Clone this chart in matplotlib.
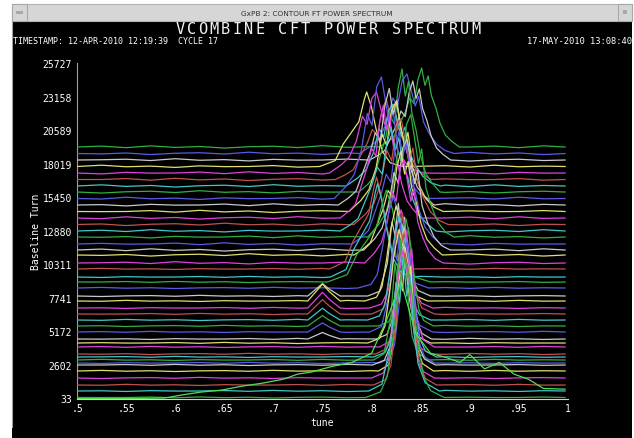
import matplotlib
matplotlib.use("Agg")
import matplotlib.pyplot as plt
from matplotlib.patches import Rectangle
from matplotlib.lines import Line2D

W, H = 634, 439
MONO = "DejaVu Sans Mono"

# ---------------------------------------------------------------------------
# Axis data
# ---------------------------------------------------------------------------
Y_TICKS = [33, 2602, 5172, 7741, 10311, 12880, 15450, 18019, 20589, 23158, 25727]
X_TICKS = [0.5, 0.55, 0.6, 0.65, 0.7, 0.75, 0.8, 0.85, 0.9, 0.95, 1.0]
X_LABELS = [".5", ".55", ".6", ".65", ".7", ".75", ".8", ".85", ".9", ".95", "1"]
TUNE_START, TUNE_END = 0.5, 0.997

TITLE = "VCOMBINE CFT POWER SPECTRUM"
WINDOW_TITLE = "GxPB 2: CONTOUR FT POWER SPECTRUM"
STAMP_LEFT = "TIMESTAMP: 12-APR-2010 12:19:39  CYCLE 17"
STAMP_RIGHT = "17-MAY-2010 13:08:40"

# ---------------------------------------------------------------------------
# Trace data, top trace first
# ---------------------------------------------------------------------------
BASE = [19310, 18812, 18314, 17816, 17318, 16819, 16321, 15861, 15363, 14865,
        14367, 13868, 13370, 12872, 12412, 11875, 11416, 11032, 10419,
        9959, 9346, 8963, 8503, 7890, 7506, 6970, 6510, 6050, 5590,
        5130, 4594, 4287, 3980, 3444, 3214, 2984, 2754, 2601, 2141,
        1604, 1068, 608, 110]
PEAK_TUNE = [0.851, 0.836, 0.842, 0.795, 0.805, 0.815, 0.822, 0.831, 0.810, 0.818,
             0.825, 0.812, 0.830, 0.820, 0.840, 0.828, 0.836, 0.830, 0.833,
             0.805, 0.806, 0.815, 0.822, 0.828, 0.825, 0.830, 0.832, 0.828, 0.835,
             0.830, 0.833, 0.828, 0.836, 0.832, 0.834, 0.830, 0.836, 0.833, 0.835,
             0.832, 0.834, 0.833, 0.834]
PEAK_TOP = [25370, 24900, 24370, 23530, 23530, 23000, 22600, 25290, 24680, 23800,
            22800, 22500, 21500, 20800, 21800, 20500, 19900, 19000, 18300,
            17000, 16500, 16000, 15500, 15000, 14800, 14500, 14300, 14000, 13800,
            13500, 13200, 13000, 12800, 12600, 12400, 12200, 12000, 11800, 11600,
            11400, 11200, 11000, 10800]
PEAK_WIDTH = [0.011, 0.012, 0.011, 0.008, 0.012, 0.013, 0.012, 0.011, 0.012, 0.013,
              0.012, 0.011, 0.012, 0.013, 0.011, 0.012, 0.011, 0.012, 0.010,
              0.008, 0.008, 0.010, 0.009, 0.008, 0.008, 0.008, 0.008, 0.008, 0.007,
              0.008, 0.007, 0.008, 0.007, 0.007, 0.008, 0.007, 0.007, 0.008, 0.007,
              0.008, 0.008, 0.009, 0.010]
SHAPE = ["D", "E", "D", "C", "E", "D", "E", "D", "E", "D",
         "E", "D", "E", "D", "E", "D", "E", "D", "E",
         "C", "C", "C", "A", "B", "A", "A", "B", "A", "A",
         "B", "A", "A", "B", "A", "A", "B", "A", "A", "B",
         "A", "A", "B", "A"]
# small bump near tune .75
BUMP = [0] * 23 + [950, 1300, 1200, 1100, 900, 800, 700, 500] + [0] * 12

# normalised peak outlines (offset in widths, fraction of height)
SHAPES = {
    "A": ([-4, -2.5, -1.8, -1.2, -0.7, -0.3, 0, 0.4, 0.8, 1.3, 1.9, 2.6, 4],
          [0, 0.04, 0.15, 0.45, 0.75, 0.9, 1.0, 0.88, 0.7, 0.4, 0.15, 0.05, 0]),
    "B": ([-4, -2.5, -1.5, -0.9, -0.5, -0.1, 0.3, 0.7, 1.1, 1.6, 2.4, 4],
          [0, 0.05, 0.35, 0.8, 0.65, 1.0, 0.7, 0.85, 0.45, 0.2, 0.06, 0]),
    "C": ([-6, -4, -3, -2, -1, -0.3, 0, 0.6, 1.2, 2, 3, 4.5],
          [0, 0.08, 0.3, 0.45, 0.6, 0.9, 1.0, 0.8, 0.5, 0.2, 0.05, 0]),
    "D": ([-4, -3.2, -2.6, -2.0, -1.5, -1.1, -0.7, -0.35, 0, 0.3, 0.6, 0.9,
           1.3, 1.7, 2.2, 2.8, 3.5],
          [0, 0.06, 0.12, 0.3, 0.45, 0.62, 0.55, 0.85, 1.0, 0.78, 0.9, 0.65,
           0.5, 0.3, 0.15, 0.07, 0]),
    "E": ([-4, -3, -2.3, -1.7, -1.2, -0.8, -0.4, 0, 0.35, 0.7, 1.0, 1.4,
           1.9, 2.5, 3.2, 4],
          [0, 0.1, 0.2, 0.4, 0.7, 0.6, 0.92, 1.0, 0.8, 0.6, 0.72, 0.4,
           0.25, 0.12, 0.04, 0]),
}
BUMP_X = [0.735, 0.744, 0.750, 0.757, 0.768]
BUMP_Y = [0, 0.6, 1.0, 0.55, 0]

# small ripple on the flat parts (units), sampled every .025 in tune
RIPPLE = [0, 70, -50, 90, -30, 40, -80, 20, 60, -40, 100, -20, 30, -70, 50, -10]
RIPPLE_TUNE = [0.5 + 0.025 * k for k in range(20)]

# broad green trace along the bottom
GREEN_TUNE = [0.5, 0.516, 0.560, 0.589, 0.613, 0.627, 0.648, 0.669, 0.690, 0.711,
              0.725, 0.739, 0.760, 0.780, 0.800, 0.815, 0.830, 0.845, 0.860, 0.875,
              0.890, 0.900, 0.915, 0.930, 0.945, 0.960, 0.975, 0.997]
GREEN_VAL = [33, 33, 33, 71, 378, 531, 685, 991, 1221, 1528,
             1911, 2064, 2500, 2800, 3500, 6000, 9000, 5000, 3500, 3200,
             2800, 3400, 2300, 2800, 1900, 1500, 800, 750]

COLORS = ["#30b040", "#5a5ae6", "#c8c8c8", "#e0e070",
          "#e040e0", "#c05050", "#40c8c8"]

# ---------------------------------------------------------------------------
fig = plt.figure(figsize=(W / 100, H / 100), dpi=100, facecolor="white")


def fx(px):
    return px / W


def fy(py):
    return 1 - py / H


def add_rect(x0, y0, x1, y1, **kw):
    fig.patches.append(Rectangle((fx(x0), fy(y1)), fx(x1 - x0), (y1 - y0) / H,
                                 transform=fig.transFigure, **kw))


# window canvas + title bar
add_rect(12, 22, 632, 439, facecolor="black", edgecolor="none", zorder=-2)
add_rect(12, 5, 632, 22, facecolor="#d6d6d6", edgecolor="#b4b4b4", linewidth=0.8, zorder=-1)
add_rect(12, 5, 27, 22, facecolor="#d6d6d6", edgecolor="#a8a8a8", linewidth=0.8, zorder=-1)
add_rect(618, 5, 632, 22, facecolor="#d6d6d6", edgecolor="#a8a8a8", linewidth=0.8, zorder=-1)
add_rect(16, 12, 23, 15, facecolor="#a8a8a8", edgecolor="none", zorder=-1)
add_rect(623, 11, 627, 15, facecolor="#a8a8a8", edgecolor="none", zorder=-1)
fig.lines.append(Line2D([fx(12), fx(12)], [fy(22), fy(428)], transform=fig.transFigure,
                        color="#a0a0a0", linewidth=0.8))

fig.text(fx(317), fy(13.5), WINDOW_TITLE, ha="center", va="center",
         fontsize=5.3, color="#303030", family="DejaVu Sans")

# big title on a wide fixed grid
step = 11.4
x0 = 328 - step * (len(TITLE) - 1) / 2
for k, ch in enumerate(TITLE):
    fig.text(fx(x0 + k * step), fy(30), ch, ha="center", va="center",
             fontsize=11, color="#f0f0f0", family=MONO)

fig.text(fx(13), fy(41.5), STAMP_LEFT, ha="left", va="center",
         fontsize=6, color="white", family=MONO)
fig.text(fx(632), fy(41.5), STAMP_RIGHT, ha="right", va="center",
         fontsize=6.3, color="white", family=MONO)

# ---------------------------------------------------------------------------
ax = fig.add_axes([fx(77), fy(399.5), fx(568) - fx(77), fy(64.3) - fy(399.5)])
ax.set_zorder(5)
ax.set_facecolor("none")
ax.set_xlim(0.5, 1.0)
ax.set_ylim(33, 25727)

for i, base in enumerate(BASE):
    sx, sy = SHAPES[SHAPE[i]]
    c, w = PEAK_TUNE[i], PEAK_WIDTH[i]
    h = PEAK_TOP[i] - base
    lo, hi = c + sx[0] * w, c + sx[-1] * w
    amp = 1.0 if i < 19 else 0.5
    pts = [(TUNE_START, base), (TUNE_END, base)]
    for k, t in enumerate(RIPPLE_TUNE[1:], start=1):
        busy = lo - 0.005 < t < hi + 0.005 or (BUMP[i] and 0.73 < t < 0.775)
        if not busy:
            pts.append((t, base + amp * RIPPLE[(k + 3 * i) % len(RIPPLE)]))
    if BUMP[i]:
        pts += [(bx, base + BUMP[i] * by) for bx, by in zip(BUMP_X, BUMP_Y)]
    pts += [(c + ox * w, base + h * oy) for ox, oy in zip(sx, sy)]
    pts.sort()
    xs, ys = zip(*pts)
    ax.plot(xs, ys, color=COLORS[i % len(COLORS)], linewidth=0.9, zorder=3 + i * 0.01)

ax.plot(GREEN_TUNE, GREEN_VAL, color="#50e050", linewidth=0.9, zorder=3.5)

for side in ("top", "right"):
    ax.spines[side].set_visible(False)
ax.spines["left"].set_color("#a0a0a0")
ax.spines["bottom"].set_color("#d0d0d0")

ax.set_yticks(Y_TICKS)
ax.set_yticklabels([str(v) for v in Y_TICKS])
ax.set_xticks(X_TICKS)
ax.set_xticklabels(X_LABELS)
ax.tick_params(axis="y", direction="in", length=13.7, width=0.9, pad=3.5,
               labelsize=7, labelcolor="white")
ax.tick_params(axis="x", direction="in", length=10, width=0.9, pad=3,
               labelsize=7, labelcolor="white")
for k, t in enumerate(ax.yaxis.get_major_ticks()):
    t.tick1line.set_color("#e8e8e8" if k % 2 == 0 else "#909090")
for t in ax.xaxis.get_major_ticks():
    t.tick1line.set_color("#c0c0c0")
for lab in ax.get_xticklabels() + ax.get_yticklabels():
    lab.set_family(MONO)

ax.set_xlabel("tune", color="white", fontsize=7, family=MONO, labelpad=3)
fig.text(fx(36), fy(232), "Baseline Turn", rotation=90, ha="center", va="center",
         fontsize=7, color="white", family=MONO)

fig.savefig("out.png", dpi=100, facecolor="white")
